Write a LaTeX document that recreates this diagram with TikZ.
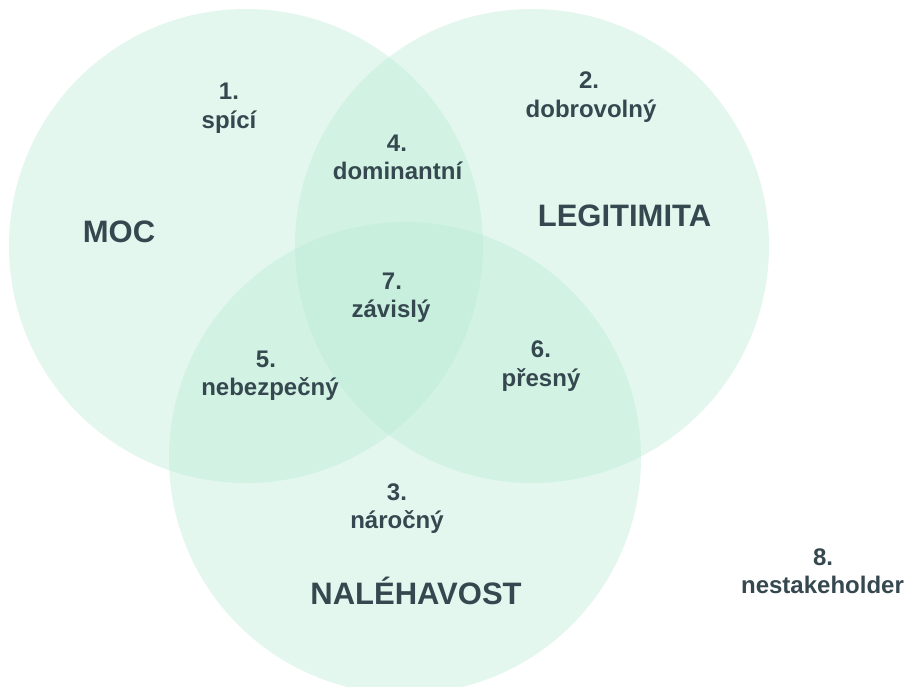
\documentclass[tikz,border=0pt]{standalone}
\usepackage{fontspec}
\setmainfont{Liberation Sans}
\definecolor{venn}{RGB}{185,235,213}
\definecolor{txt}{RGB}{54,72,79}
\tikzset{
  set/.style={circle, draw=none, fill=venn, fill opacity=0.4, inner sep=0pt},
  small/.style={text=txt, font=\fontsize{24}{28}\selectfont\bfseries, anchor=base, inner sep=0pt},
  big/.style={text=txt, font=\fontsize{31}{36}\selectfont\bfseries, anchor=base, inner sep=0pt}
}
\begin{document}
\begin{tikzpicture}[x=1pt,y=-1pt]
\useasboundingbox (0,0) rectangle (907,686);
\clip (0,0) rectangle (907,686);
\node[set, minimum size=474pt] (moc) at (246,246) {};
\node[set, minimum size=474pt] (leg) at (532,246) {};
\node[set, minimum size=472pt] (nal) at (405,458) {};

\node[big] (tmoc) at (119,242) {MOC};
\node[big] (tleg) at (624.5,226) {LEGITIMITA};
\node[big] (tnal) at (416,604) {NALÉHAVOST};

\node[small] (n1) at (229,99) {1.};
\node[small] (l1) at (229,128) {spící};
\node[small] (n2) at (589,88) {2.};
\node[small] (l2) at (591,117) {dobrovolný};
\node[small] (n4) at (397,151) {4.};
\node[small] (l4) at (397.5,179) {dominantní};
\node[small] (n7) at (392,289) {7.};
\node[small] (l7) at (391,317) {závislý};
\node[small] (n5) at (266,367) {5.};
\node[small] (l5) at (270,395) {nebezpečný};
\node[small] (n6) at (541,357) {6.};
\node[small] (l6) at (541,386) {přesný};
\node[small] (n3) at (397,500) {3.};
\node[small] (l3) at (397,528) {náročný};
\node[small] (n8) at (823,565) {8.};
\node[small] (l8) at (822.5,593) {nestakeholder};
\end{tikzpicture}
\end{document}
